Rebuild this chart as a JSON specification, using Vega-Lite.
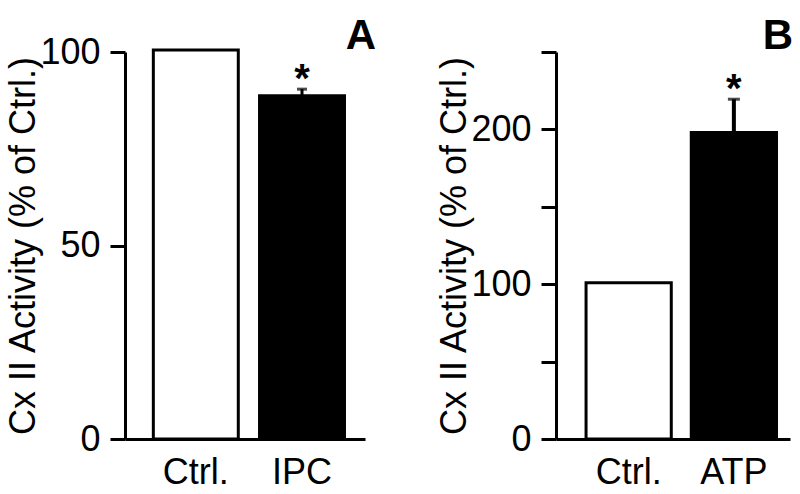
{
  "$schema": "https://vega.github.io/schema/vega-lite/v6.json",
  "background": "white",
  "padding": {"left": 5, "top": 14, "right": 5, "bottom": 5},
  "spacing": 60,
  "config": {
    "font": "Liberation Sans",
    "view": {"stroke": null},
    "axis": {
      "domainColor": "black", "domainWidth": 3, "tickColor": "black", "tickWidth": 3,
      "labelColor": "black", "titleColor": "black", "labelFont": "Liberation Sans", "titleFont": "Liberation Sans",
      "labelFontSize": 36, "titleFontSize": 36, "titleFontWeight": "normal", "grid": false
    },
    "title": {"font": "Liberation Sans", "fontSize": 42, "fontWeight": "bold", "color": "black", "anchor": "end", "offset": -24}
  },
  "resolve": {"scale": {"fill": "independent", "x": "independent", "y": "independent"}},
  "datasets": {
    "A": [
      {"group": "Ctrl.", "value": 100.5, "hi": null, "sig": ""},
      {"group": "IPC", "value": 88.7, "hi": 90.4, "sig": "*"}
    ],
    "B": [
      {"group": "Ctrl.", "value": 101, "hi": null, "sig": ""},
      {"group": "ATP", "value": 198, "hi": 219.5, "sig": "*"}
    ]
  },
  "hconcat": [
    {
      "width": 240, "height": 387,
      "title": {"text": "A", "dx": 11},
      "data": {"name": "A"},
      "encoding": {
        "x": {"field": "group", "type": "nominal", "sort": null,
              "scale": {"paddingInner": 0.2, "paddingOuter": 0.23, "align": 0.58},
              "axis": {"title": null, "labelAngle": 0, "ticks": false, "labelPadding": 16}}
      },
      "layer": [
        {
          "mark": {"type": "bar", "stroke": "black", "strokeWidth": 3},
          "encoding": {
            "y": {"field": "value", "type": "quantitative", "title": "Cx II Activity (% of Ctrl.)",
                  "scale": {"domain": [0, 100], "nice": false},
                  "axis": {"values": [0, 50, 100], "tickSize": 15, "labelPadding": 10, "titlePadding": -3}},
            "fill": {"field": "group", "type": "nominal", "scale": {"domain": ["Ctrl.", "IPC"], "range": ["white", "black"]}, "legend": null}
          }
        },
        {
          "transform": [{"filter": "datum.hi != null"}],
          "mark": {"type": "rule", "strokeWidth": 3, "color": "black"},
          "encoding": {
            "y": {"field": "value", "type": "quantitative", "title": "Cx II Activity (% of Ctrl.)"},
            "y2": {"field": "hi"}
          }
        },
        {
          "transform": [{"filter": "datum.hi != null"}],
          "mark": {"type": "tick", "color": "black", "thickness": 3, "size": 10},
          "encoding": {"y": {"field": "hi", "type": "quantitative", "title": "Cx II Activity (% of Ctrl.)"}}
        },
        {
          "transform": [{"filter": "datum.hi != null"}],
          "mark": {"type": "text", "fontSize": 40, "fontWeight": "bold", "baseline": "alphabetic", "color": "black", "dy": 3},
          "encoding": {
            "y": {"field": "hi", "type": "quantitative", "title": "Cx II Activity (% of Ctrl.)"},
            "text": {"field": "sig"}
          }
        }
      ]
    },
    {
      "width": 234, "height": 387,
      "title": {"text": "B", "dx": 3, "offset": -7},
      "data": {"name": "B"},
      "encoding": {
        "x": {"field": "group", "type": "nominal", "sort": null,
              "scale": {"paddingInner": 0.19, "paddingOuter": 0.207, "align": 0.69},
              "axis": {"title": null, "labelAngle": 0, "ticks": false, "labelPadding": 16}}
      },
      "layer": [
        {
          "mark": {"type": "bar", "stroke": "black", "strokeWidth": 3},
          "encoding": {
            "y": {"field": "value", "type": "quantitative", "title": "Cx II Activity (% of Ctrl.)",
                  "scale": {"domain": [0, 250], "nice": false},
                  "axis": {"values": [0, 50, 100, 150, 200, 250], "tickSize": 15, "labelPadding": 10, "titlePadding": -3,
                           "labelExpr": "datum.value % 100 == 0 ? datum.label : ''"}},
            "fill": {"field": "group", "type": "nominal", "scale": {"domain": ["Ctrl.", "ATP"], "range": ["white", "black"]}, "legend": null}
          }
        },
        {
          "transform": [{"filter": "datum.hi != null"}],
          "mark": {"type": "rule", "strokeWidth": 4, "color": "black"},
          "encoding": {
            "y": {"field": "value", "type": "quantitative", "title": "Cx II Activity (% of Ctrl.)"},
            "y2": {"field": "hi"}
          }
        },
        {
          "transform": [{"filter": "datum.hi != null"}],
          "mark": {"type": "tick", "color": "black", "thickness": 3, "size": 12},
          "encoding": {"y": {"field": "hi", "type": "quantitative", "title": "Cx II Activity (% of Ctrl.)"}}
        },
        {
          "transform": [{"filter": "datum.hi != null"}],
          "mark": {"type": "text", "fontSize": 40, "fontWeight": "bold", "baseline": "alphabetic", "color": "black", "dy": 3},
          "encoding": {
            "y": {"field": "hi", "type": "quantitative", "title": "Cx II Activity (% of Ctrl.)"},
            "text": {"field": "sig"}
          }
        }
      ]
    }
  ]
}
